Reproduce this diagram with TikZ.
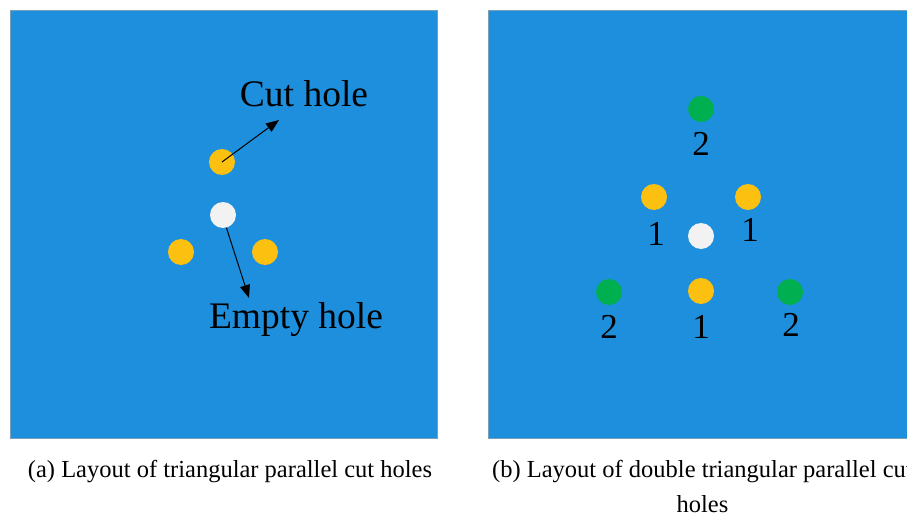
\documentclass[tikz,border=0pt]{standalone}
\usepackage{fontspec}
\setmainfont{Liberation Serif}
\usetikzlibrary{arrows.meta}
\definecolor{panelblue}{RGB}{30,143,220}
\definecolor{paneledge}{RGB}{120,160,185}
\definecolor{cutyellow}{RGB}{252,192,16}
\definecolor{holegreen}{RGB}{0,176,80}
\definecolor{holewhite}{RGB}{242,242,242}
\tikzset{
  panel/.style={fill=panelblue,draw=paneledge,line width=0.8pt},
  hole/.style={circle,minimum size=26pt,inner sep=0pt,draw=none},
  cuthole/.style={hole,fill=cutyellow},
  emptyhole/.style={hole,fill=holewhite},
  greenhole/.style={hole,fill=holegreen},
  bigtext/.style={font=\fontsize{37.5}{40}\selectfont,inner sep=0pt,anchor=base},
  numtext/.style={font=\fontsize{35}{38}\selectfont,inner sep=0pt,anchor=base},
  captext/.style={font=\fontsize{24.5}{35}\selectfont,inner sep=0pt,anchor=base},
  pointer/.style={draw=black,line width=1pt,-{Triangle[length=13pt,width=10pt]}}
}
\begin{document}
\begin{tikzpicture}[x=1pt,y=-1pt]
\useasboundingbox (0,0) rectangle (907,516);
\clip (0,0) rectangle (907,516);
% panels
\draw[panel] (10,10) rectangle (437,438);
\draw[panel] (488,10) rectangle (915,438);
% panel (a)
\node[cuthole] (a1) at (222,162) {};
\node[emptyhole] (a0) at (223,215) {};
\node[cuthole] (a2) at (181,252) {};
\node[cuthole] (a3) at (265,252) {};
\node[bigtext] (cutlbl) at (304,107) {Cut hole};
\node[bigtext] (emptylbl) at (296,328) {Empty hole};
\coordinate (cuttip) at (279,120);
\coordinate (emptytip) at (249,298);
\draw[pointer] (a1.center) -- (cuttip);
\draw[pointer] (a0.-75) -- (emptytip);
% panel (b)
\node[greenhole] (g1) at (701,109) {};
\node[cuthole] (y1) at (654,197) {};
\node[cuthole] (y2) at (748,197) {};
\node[emptyhole] (b0) at (701,236) {};
\node[cuthole] (y3) at (701,291) {};
\node[greenhole] (g2) at (609,292) {};
\node[greenhole] (g3) at (790,292) {};
\node[numtext] (lg1) at (701,155) {2};
\node[numtext] (ly1) at (656,245) {1};
\node[numtext] (ly2) at (750,241) {1};
\node[numtext] (ly3) at (701,338) {1};
\node[numtext] (lg2) at (609,338) {2};
\node[numtext] (lg3) at (791,336) {2};
% captions
\node[captext] (capa) at (230,477) {(a) Layout of triangular parallel cut holes};
\node[captext,anchor=base west] (capb) at (492,477) {(b) Layout of double triangular parallel cut};
\node[captext] (capb2) at (702.5,512) {holes};
\end{tikzpicture}
\end{document}
